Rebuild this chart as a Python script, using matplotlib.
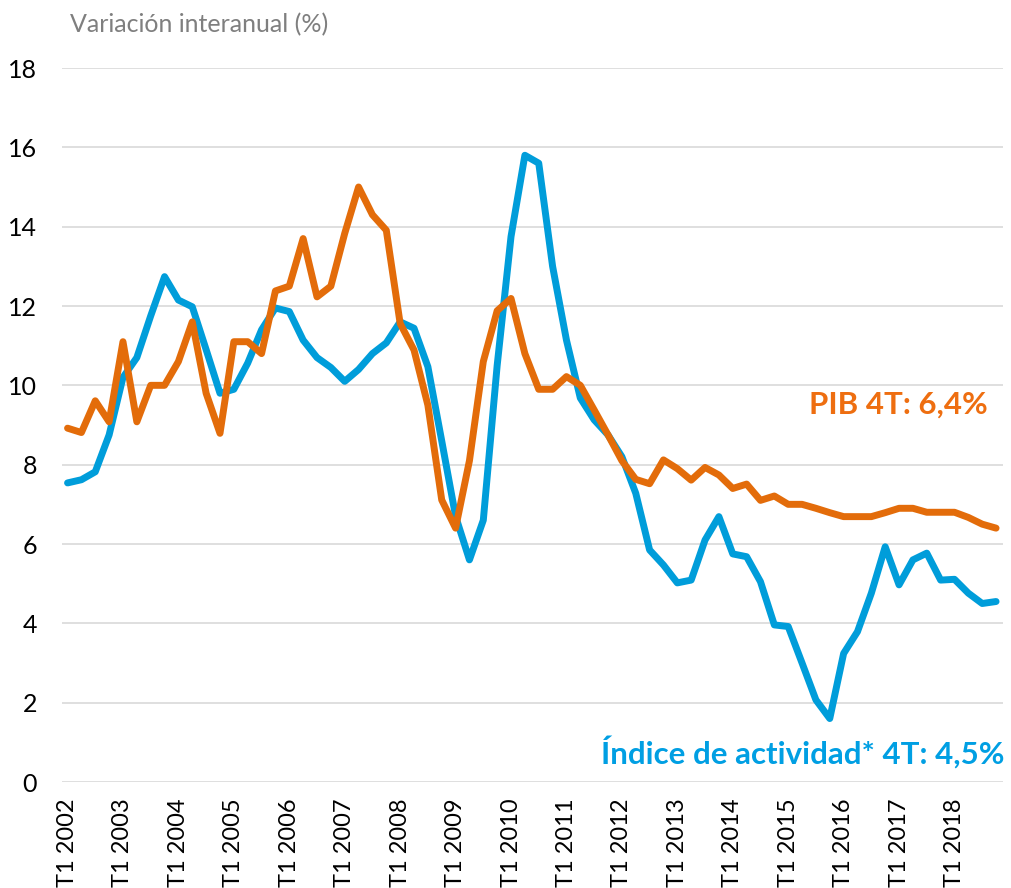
import matplotlib
matplotlib.use('Agg')
import matplotlib.pyplot as plt

# quarterly data, T1 2002 .. T4 2018
years = list(range(2002, 2019))
quarters = ['T%d %d' % (q, y) for y in years for q in (1, 2, 3, 4)]

indice = [7.54, 7.62, 7.82, 8.75, 10.2, 10.7, 11.75, 12.74,
          12.15, 11.98, 10.9, 9.8, 9.9, 10.56, 11.4, 11.95,
          11.86, 11.14, 10.7, 10.45, 10.1, 10.4, 10.8, 11.07,
          11.6, 11.44, 10.47, 8.6, 6.7, 5.6, 6.6, 10.5,
          13.75, 15.8, 15.6, 13.0, 11.14, 9.68, 9.13, 8.75,
          8.2, 7.28, 5.85, 5.47, 5.02, 5.09, 6.1, 6.69,
          5.75, 5.68, 5.05, 3.96, 3.92, 3.0, 2.07, 1.6,
          3.24, 3.79, 4.76, 5.93, 4.97, 5.6, 5.77, 5.09,
          5.11, 4.76, 4.5, 4.55]

pib = [8.92, 8.81, 9.61, 9.08, 11.1, 9.08, 10.0, 10.0,
       10.6, 11.6, 9.8, 8.79, 11.1, 11.1, 10.8, 12.38,
       12.5, 13.7, 12.23, 12.5, 13.83, 15.0, 14.3, 13.91,
       11.56, 10.89, 9.5, 7.11, 6.4, 8.1, 10.6, 11.88,
       12.19, 10.8, 9.9, 9.9, 10.22, 10.0, 9.38, 8.75,
       8.1, 7.63, 7.52, 8.12, 7.9, 7.61, 7.93, 7.74,
       7.4, 7.51, 7.1, 7.21, 7.0, 7.0, 6.9, 6.79,
       6.69, 6.69, 6.69, 6.79, 6.9, 6.9, 6.8, 6.8,
       6.8, 6.67, 6.5, 6.4]

blue = '#009DDA'
orange = '#E36C0A'

plt.rcParams['font.family'] = ['Lato', 'DejaVu Sans']

fig = plt.figure(figsize=(10.12, 8.88), dpi=100)
ax = fig.add_axes([62/1012, 1 - 782/888, (1003-62)/1012, (782-68)/888])

x = list(range(len(quarters)))
ax.plot(x, indice, color=blue, lw=5, solid_joinstyle='round', solid_capstyle='round')
ax.plot(x, pib, color=orange, lw=5, solid_joinstyle='round', solid_capstyle='round')

ax.set_ylim(0, 18)
ax.set_xlim(-0.4, 67.5)
ax.set_yticks(range(0, 19, 2))
ax.set_xticks(x[::4])
ax.set_xticklabels(quarters[::4], rotation=90)
ax.tick_params(axis='y', length=0, pad=18, labelsize=18)
ax.tick_params(axis='x', length=0, pad=12, labelsize=17)

ax.grid(axis='y', color='#D9D9D9', lw=1.2)
ax.set_axisbelow(True)
for s in ax.spines.values():
    s.set_visible(False)

# texts
fig.text(70/1012, 1 - 25/888, 'Variación interanual (%)', color='#7F7F7F',
         fontsize=18, va='center', ha='left')
fig.text(988/1012, 1 - 405/888, 'PIB 4T: 6,4%', color='#EE6E10',
         fontsize=22.5, fontweight='bold', va='center', ha='right')
fig.text(1005/1012, 1 - 752/888, 'Índice de actividad* 4T: 4,5%', color='#009FE3',
         fontsize=22.5, fontweight='bold', va='center', ha='right')

fig.savefig('out.png', dpi=100)
